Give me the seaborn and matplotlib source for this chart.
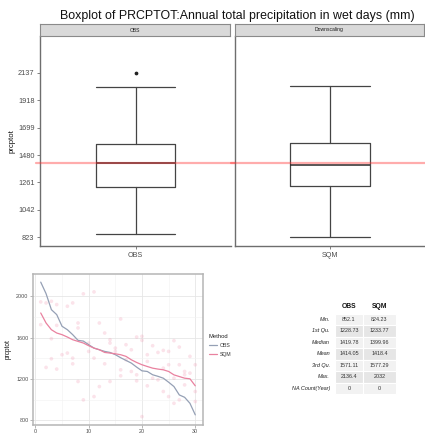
import matplotlib
matplotlib.use("Agg")
import matplotlib.pyplot as plt
import seaborn as sns
import pandas as pd
from matplotlib.patches import Rectangle

sns.set_theme(style="white")
plt.rcParams['font.family'] = ['Liberation Sans', 'DejaVu Sans']

# ---------------- data ----------------
title = "Boxplot of PRCPTOT:Annual total precipitation in wet days (mm)"
methods = ["OBS", "SQM"]
facet_labels = ["OBS", "Downscaling"]
stat_names = ["Min.", "1st Qu.", "Median", "Mean", "3rd Qu.", "Max.", "NA Count(Year)"]
obs_stats = [852.1, 1228.73, 1419.78, 1414.05, 1571.11, 2136.4, 0]
sqm_stats = [824.23, 1233.77, 1399.96, 1418.4, 1577.29, 2032, 0]
obs_stat_text = ["852.1", "1228.73", "1419.78", "1414.05", "1571.11", "2136.4", "0"]
sqm_stat_text = ["824.23", "1233.77", "1399.96", "1418.4", "1577.29", "2032", "0"]
obs_whisker_hi = 2025
obs_outliers = [2136.4]
sqm_outliers = []
ref_line = 1419.78
box_yticks = [823, 1042, 1261, 1480, 1699, 1918, 2137]

rank = list(range(1, 31))
obs_sorted = [2136.4, 2025, 1870, 1822, 1709, 1676, 1628, 1573, 1566, 1531,
              1498, 1482, 1466, 1456, 1434.5, 1405, 1379, 1353, 1314, 1278,
              1272, 1240, 1225, 1207, 1168, 1126, 1045, 1022, 964, 852.1]
sqm_sorted = [1838, 1741, 1676, 1644, 1628, 1605, 1579, 1563, 1547, 1521,
              1498, 1482, 1456, 1450, 1443, 1434, 1418, 1385, 1359, 1337,
              1320, 1304, 1295, 1288, 1272, 1239, 1223, 1207, 1201, 1133]
pt_x = [1, 1, 2, 2, 3, 3, 3, 4, 4, 4, 5, 6, 6, 7, 7, 7, 8, 8, 8, 9, 9,
        10, 10, 11, 11, 11, 12, 12, 13, 13, 14, 14, 14, 15, 15, 16, 16, 16,
        17, 17, 18, 18, 19, 19, 19, 20, 20, 20, 21, 21, 21, 22, 22, 23, 23,
        24, 24, 24, 25, 25, 25, 26, 26, 26, 27, 27, 27, 28, 28, 28, 29, 29,
        30, 30, 30]
pt_y = [1945, 1725, 1935, 1311, 1951, 1589, 1395, 1919, 1718, 1295, 1434,
        1903, 1450, 1935, 1401, 1346, 1741, 1693, 1175, 2023, 997,
        1547, 1466, 2042, 1401, 1029, 1741, 1126, 1644, 1346, 1579, 1547, 1175,
        1498, 1466, 1780, 1288, 1230, 1531, 1385, 1482, 1272, 1605, 1240, 1181,
        1612, 1573, 835, 1434, 1369, 1133, 1521, 1207, 1456, 1191,
        1476, 1304, 1078, 1466, 1337, 1029, 1570, 1207, 964, 1508, 1337, 997,
        1272, 1240, 1142, 1418, 1256, 1337, 1078, 981]

W, H = 425, 434
fig = plt.figure(figsize=(W / 100, H / 100), dpi=100)
fig.patch.set_facecolor("white")


def fx(px):
    return px / W


def fy(py):
    return 1 - py / H


TICK_C = "#4d4d4d"
AX_C = "#6e6e6e"

# ---------------- upper facetted box plots ----------------
panels = [(40, 231), (235, 425)]
top, bot = 36, 246
stats_list = [
    dict(whislo=obs_stats[0], q1=obs_stats[1], med=obs_stats[2], q3=obs_stats[4],
         whishi=obs_whisker_hi, fliers=obs_outliers, label=methods[0]),
    dict(whislo=sqm_stats[0], q1=sqm_stats[1], med=sqm_stats[2], q3=sqm_stats[4],
         whishi=sqm_stats[5], fliers=sqm_outliers, label=methods[1]),
]
for i, (x0, x1) in enumerate(panels):
    ax = fig.add_axes([fx(x0), fy(bot), fx(x1 - x0), (bot - top) / H])
    lp = dict(color="#444444", linewidth=0.9)
    ax.bxp([stats_list[i]], positions=[0], widths=0.5, capwidths=0.5,
           boxprops=lp, whiskerprops=lp, capprops=lp,
           medianprops=dict(color="#2a2a2a", linewidth=1.1),
           flierprops=dict(marker="o", markersize=1.7, markerfacecolor="#222222",
                           markeredgecolor="#222222"))
    ax.axhline(ref_line, xmin=-0.02, xmax=1.03, color="#ff3030", alpha=0.4,
               linewidth=1.6, clip_on=False, zorder=5)
    ax.set_xlim(-0.6, 0.6)
    ax.set_ylim(754, 2430)
    ax.set_xticks([0])
    ax.set_xticklabels([methods[i]], fontsize=5.2, color=TICK_C)
    for s in ["top", "right"]:
        ax.spines[s].set_visible(False)
    for s in ["left", "bottom"]:
        ax.spines[s].set_color(AX_C)
        ax.spines[s].set_linewidth(1.0)
    ax.tick_params(axis="both", length=2.5, width=0.6, color=AX_C, pad=1.5,
                   bottom=True, left=True)
    ax.set_yticks(box_yticks)
    if i == 0:
        ax.set_yticklabels([str(v) for v in box_yticks], fontsize=5.3, color=TICK_C)
        ax.set_ylabel("prcptot", fontsize=5.6, color="#111111", labelpad=2)
    else:
        ax.set_yticklabels([])
        ax.tick_params(axis="y", length=0)
    ax.grid(False)
    # facet strip
    sax = fig.add_axes([fx(x0), fy(top), fx(x1 - x0 - 1), 12 / H])
    sax.set_facecolor("#d9d9d9")
    sax.set_xticks([])
    sax.set_yticks([])
    for s in sax.spines.values():
        s.set_color("#8a8a8a")
        s.set_linewidth(0.8)
    sax.text(0.5, 0.5, facet_labels[i], ha="center", va="center", fontsize=3.6,
             color="#1a1a1a", transform=sax.transAxes)

fig.text(fx(237), fy(16), title, ha="center", va="center", fontsize=8.9,
         color="#111111")

# ---------------- lower quantile-line plot ----------------
ax3 = fig.add_axes([fx(33), fy(425), fx(170), 151 / H])
df_lines = pd.DataFrame({
    "rank": rank * 2,
    "prcptot": obs_sorted + sqm_sorted,
    "Method": [methods[0]] * len(rank) + [methods[1]] * len(rank),
})
palette = {"OBS": "#95a0b5", "SQM": "#e9819f"}
sns.scatterplot(x=pt_x, y=pt_y, color="#f08aa8", alpha=0.24, s=7,
                edgecolor="none", ax=ax3, legend=False, zorder=2)
sns.lineplot(data=df_lines, x="rank", y="prcptot", hue="Method",
             palette=palette, linewidth=0.9, ax=ax3, zorder=3)
ax3.set_xlim(-0.45, 31.45)
ax3.set_ylim(754, 2215)
ax3.set_xticks([0, 10, 20, 30])
ax3.set_yticks([800, 1200, 1600, 2000])
ax3.set_xticks([5, 15, 25], minor=True)
ax3.set_yticks([1000, 1400, 1800], minor=True)
ax3.grid(True, which="major", color="#e6e6e6", linewidth=0.6)
ax3.grid(True, which="minor", color="#f2f2f2", linewidth=0.4)
ax3.set_axisbelow(True)
ax3.tick_params(axis="both", which="major", labelsize=3.9, labelcolor=TICK_C,
                length=2, width=0.5, color="#9a9a9a", pad=1.2,
                bottom=True, left=True)
ax3.tick_params(axis="both", which="minor", length=0)
for s in ax3.spines.values():
    s.set_color("#b5b5b5")
    s.set_linewidth(1.1)
ax3.set_xlabel("")
ax3.set_ylabel("prcptot", fontsize=4.7, color="#111111", labelpad=3)
leg = ax3.legend(title="Method", loc="upper left",
                 bbox_to_anchor=(fx(206), fy(331)), bbox_transform=fig.transFigure,
                 frameon=False, fontsize=3.7, title_fontsize=4.2,
                 handlelength=1.6, handletextpad=0.5, labelspacing=0.8,
                 borderpad=0, alignment="left")
for t in leg.get_texts():
    t.set_color("#333333")
leg.get_title().set_color("#222222")

# ---------------- summary table ----------------
tax = fig.add_axes([0, 0, 1, 1], zorder=-1)
tax.set_xlim(0, W)
tax.set_ylim(H, 0)
tax.axis("off")
col_left = [335, 363]
col_w = [28, 33]
row_h = 11.5
row0 = 313.5
tax.text(col_left[0] + col_w[0] / 2, 306.5, methods[0], ha="center", va="center",
         fontsize=4.9, fontweight="bold", color="#111111")
tax.text(col_left[1] + col_w[1] / 2, 306.5, methods[1], ha="center", va="center",
         fontsize=4.9, fontweight="bold", color="#111111")
for r, name in enumerate(stat_names):
    y0 = row0 + r * row_h
    fc = "#f2f2f2" if r % 2 == 0 else "#e6e6e6"
    for c in range(2):
        tax.add_patch(Rectangle((col_left[c], y0), col_w[c], row_h, facecolor=fc,
                                edgecolor="white", linewidth=0.8))
    yc = y0 + row_h / 2
    tax.text(330, yc, name, ha="right", va="center", fontsize=4.0,
             fontstyle="italic", color="#222222")
    tax.text(col_left[0] + col_w[0] / 2, yc, obs_stat_text[r], ha="center",
             va="center", fontsize=3.9, color="#333333")
    tax.text(col_left[1] + col_w[1] / 2, yc, sqm_stat_text[r], ha="center",
             va="center", fontsize=3.9, color="#333333")

fig.savefig("out.png", dpi=100, facecolor="white")
